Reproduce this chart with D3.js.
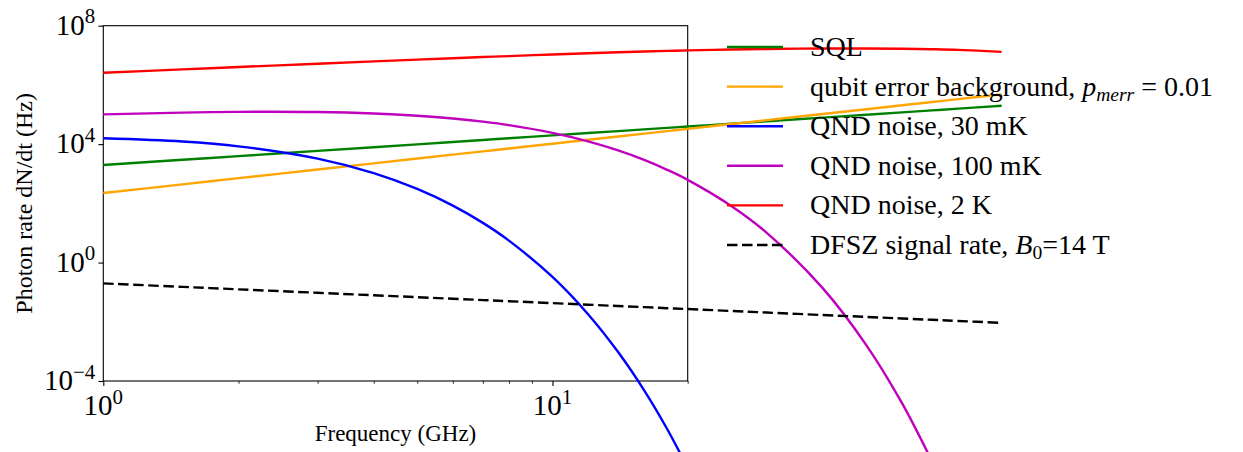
<!DOCTYPE html>
<html>
<head>
<meta charset="utf-8">
<script src="https://cdn.jsdelivr.net/npm/d3@7"></script>
<style>
  body { margin: 0; background: #fff; }
  svg { display: block; }
  text { font-family: "Liberation Serif", "DejaVu Serif", serif; fill: #000; }
</style>
</head>
<body>
<div id="chart"></div>
<script>
// frequencies in GHz, rates in Hz
var freqGHz = [1, 1.5, 2, 3, 4, 5, 6, 7, 8, 10, 12, 14, 16, 18, 20, 25, 30, 40, 50, 60, 70, 80, 100];

var sqlRate = [1970, 2955, 3940, 5910, 7880, 9850, 11820, 13790, 15760, 19700, 23640, 27580, 31520, 35460, 39400, 49250, 59100, 78800, 98500, 118200, 137900, 157600, 197000];
var qubitErrRate = [223, 438, 708, 1391, 2248, 3261, 4418, 5713, 7136, 10350, 14030, 18130, 22660, 27560, 32870, 47660, 64580, 104400, 151300, 205100, 265200, 331200, 480300];
var qnd30mK = [15780, 12250, 8414, 3228, 1047, 306, 83.8, 21.9, 5.51, 0.326, 0.018, 9.48e-4, 4.83e-5, 2.39e-6, 1.16e-7, null, null, null, null, null, null, null, null];
var qnd100mK = [1.01e5, 1.16e5, 1.23e5, 1.21e5, 1.08e5, 9.10e4, 7.35e4, 5.75e4, 4.39e4, 2.40e4, 1.24e4, 6120, 2930, 1360, 622, 81.8, 10.1, 0.134, 1.6e-3, 1.78e-5, 1.9e-7, null, null];
var qnd2K = [2.57e6, 3.34e6, 4.03e6, 5.21e6, 6.24e6, 7.16e6, 7.98e6, 8.73e6, 9.42e6, 1.07e7, 1.175e7, 1.265e7, 1.345e7, 1.41e7, 1.465e7, 1.57e7, 1.64e7, 1.70e7, 1.70e7, 1.67e7, 1.61e7, 1.53e7, 1.31e7];
var dfszRate = [0.198, 0.151, 0.1247, 0.0952, 0.0786, 0.0677, 0.060, 0.0541, 0.0495, 0.0427, 0.0378, 0.0341, 0.0312, 0.0288, 0.0269, 0.0232, 0.0205, 0.0169, 0.0146, 0.0129, 0.01166, 0.01067, 0.00919];

var xTicks = [1, 10];
var xMinorTicks = [2, 3, 4, 5, 6, 7, 8, 9, 20];
var yTicks = [1e-4, 1e0, 1e4, 1e8];

var series = [
  {values: sqlRate, color: "green", dash: null},
  {values: qubitErrRate, color: "orange", dash: null},
  {values: qnd30mK, color: "blue", dash: null},
  {values: qnd100mK, color: "#bf00bf", dash: null},
  {values: qnd2K, color: "red", dash: null},
  {values: dfszRate, color: "black", dash: "10.5,4.5"}
];

var W = 1243, H = 452;
var plotL = 103.3, plotR = 687.7, plotT = 25.7, plotB = 381;

var svg = d3.select("#chart").append("svg")
    .attr("width", W)
    .attr("height", H);

var x = d3.scaleLog().domain([1, 20]).range([plotL, plotR]);
var y = d3.scaleLog().domain([1e-4, 1e8]).range([plotB, plotT]);

// axes frame
svg.append("rect")
    .attr("x", plotL).attr("y", plotT)
    .attr("width", plotR - plotL).attr("height", plotB - plotT)
    .attr("fill", "none")
    .attr("stroke", "black")
    .attr("stroke-width", 1.1);

// x major ticks
var xAxis = svg.append("g")
    .attr("transform", "translate(0," + plotB + ")")
    .call(d3.axisBottom(x).tickValues(xTicks).tickSize(4.9).tickFormat(""));
xAxis.select(".domain").remove();
xAxis.selectAll("line").attr("stroke-width", 1.1);

var xAxisMinor = svg.append("g")
    .attr("transform", "translate(0," + plotB + ")")
    .call(d3.axisBottom(x).tickValues(xMinorTicks).tickSize(2.8).tickFormat(""));
xAxisMinor.select(".domain").remove();
xAxisMinor.selectAll("line").attr("stroke-width", 0.8);

var yAxis = svg.append("g")
    .attr("transform", "translate(" + plotL + ",0)")
    .call(d3.axisLeft(y).tickValues(yTicks).tickSize(4.9).tickFormat(""));
yAxis.select(".domain").remove();
yAxis.selectAll("line").attr("stroke-width", 1.1);

function powLabel(sel, exp) {
  sel.append("tspan").text("10");
  sel.append("tspan")
      .attr("dy", "-0.55em")
      .attr("font-size", "0.72em")
      .text(exp);
}

xTicks.forEach(function(t) {
  var lab = svg.append("text")
      .attr("x", x(t))
      .attr("y", plotB + 34)
      .attr("text-anchor", "middle")
      .attr("font-size", 29);
  powLabel(lab, String(Math.round(Math.log10(t))));
});

yTicks.forEach(function(t) {
  var e = Math.round(Math.log10(t));
  var lab = svg.append("text")
      .attr("x", plotL - 8)
      .attr("y", y(t) + 9)
      .attr("text-anchor", "end")
      .attr("font-size", 29);
  powLabel(lab, e < 0 ? "\u2212" + Math.abs(e) : String(e));
});

svg.append("text")
    .attr("x", (plotL + plotR) / 2)
    .attr("y", 441)
    .attr("text-anchor", "middle")
    .attr("font-size", 23)
    .text("Frequency (GHz)");

svg.append("text")
    .attr("transform", "translate(32," + ((plotT + plotB) / 2) + ") rotate(-90)")
    .attr("text-anchor", "middle")
    .attr("font-size", 24)
    .text("Photon rate dN/dt (Hz)");

// curves, not clipped to the axes box
var line = d3.line()
    .defined(function(d) { return d[1] != null; })
    .curve(d3.curveCatmullRom.alpha(0.5))
    .x(function(d) { return x(d[0]); })
    .y(function(d) { return y(d[1]); });

series.forEach(function(s) {
  svg.append("path")
      .attr("d", line(freqGHz.map(function(f, i) { return [f, s.values[i]]; })))
      .attr("fill", "none")
      .attr("stroke", s.color)
      .attr("stroke-width", 2.4)
      .attr("stroke-dasharray", s.dash);
});

// legend (no frame)
var legendLabels = [
  [{t: "SQL"}],
  [{t: "qubit error background, "}, {t: "p", it: true}, {t: "merr", it: true, sub: true}, {t: " = 0.01", up: true}],
  [{t: "QND noise, 30 mK"}],
  [{t: "QND noise, 100 mK"}],
  [{t: "QND noise, 2 K"}],
  [{t: "DFSZ signal rate, "}, {t: "B", it: true}, {t: "0", sub: true}, {t: "=14 T", up: true}]
];

var legend = svg.append("g");
legendLabels.forEach(function(parts, i) {
  var ly = 47 + i * 39.6;
  legend.append("line")
      .attr("x1", 727).attr("x2", 783)
      .attr("y1", ly).attr("y2", ly)
      .attr("stroke", series[i].color)
      .attr("stroke-width", 2.4)
      .attr("stroke-dasharray", series[i].dash);
  var txt = legend.append("text")
      .attr("x", 810)
      .attr("y", ly + 9)
      .attr("font-size", 28);
  parts.forEach(function(p) {
    var ts = txt.append("tspan").text(p.t);
    if (p.it) ts.attr("font-style", "italic");
    if (p.sub) ts.attr("dy", "0.25em").attr("font-size", "0.7em");
    if (p.up) ts.attr("dy", "-0.175em");
  });
});
</script>
</body>
</html>
